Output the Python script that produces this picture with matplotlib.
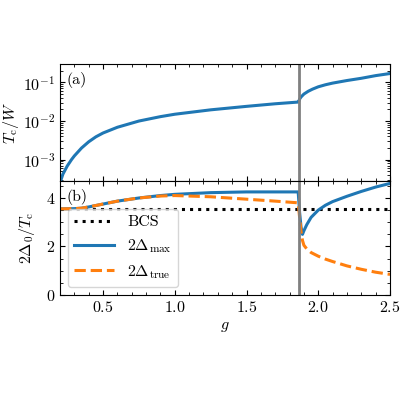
import numpy as np
import matplotlib.pyplot as plt

plt.rcParams['font.family'] = 'serif'
plt.rcParams['font.serif'] = ['cmr10', 'DejaVu Serif']
plt.rcParams['mathtext.fontset'] = 'cm'
plt.rcParams['axes.formatter.use_mathtext'] = True
plt.rcParams['font.size'] = 11.5

g_c = 1.865
g_tc = [0.2, 0.22, 0.25, 0.28, 0.3, 0.35, 0.4, 0.45, 0.5, 0.6, 0.75, 0.9, 1.0, 1.25, 1.5, 1.7, 1.86, 1.865, 1.87, 1.88, 1.9, 1.93, 1.96, 2.0, 2.05, 2.1, 2.2, 2.3, 2.4, 2.5]
tc = [2.5e-4, 4.2e-4, 6.8e-4, 1.0e-3, 1.25e-3, 2.0e-3, 2.9e-3, 3.9e-3, 4.9e-3, 6.9e-3, 1.0e-2, 1.3e-2, 1.5e-2, 1.95e-2, 2.4e-2, 2.8e-2, 3.1e-2, 3.3e-2, 3.7e-2, 4.2e-2, 5e-2, 5.9e-2, 6.7e-2, 7.7e-2, 8.7e-2, 9.6e-2, 1.12e-1, 1.28e-1, 1.5e-1, 1.7e-1]

g_d = [0.2, 0.3, 0.35, 0.4, 0.5, 0.6, 0.75, 0.9, 1.0, 1.25, 1.5, 1.7, 1.86, 1.87, 1.88, 1.89, 1.9, 1.92, 1.95, 2.0, 2.05, 2.1, 2.2, 2.3, 2.4, 2.5]
d_max = [3.55, 3.56, 3.58, 3.63, 3.75, 3.87, 4.0, 4.1, 4.15, 4.22, 4.25, 4.25, 4.25, 3.4, 2.8, 2.5, 2.65, 2.9, 3.2, 3.5, 3.7, 3.85, 4.07, 4.27, 4.45, 4.6]
d_true = [3.55, 3.56, 3.58, 3.63, 3.75, 3.87, 4.0, 4.08, 4.1, 4.05, 3.95, 3.87, 3.8, 3.2, 2.6, 2.25, 2.05, 1.9, 1.75, 1.6, 1.48, 1.38, 1.2, 1.06, 0.94, 0.85]
bcs = 3.53

fig = plt.figure(figsize=(4, 4), dpi=100)
ax1 = fig.add_axes([0.15, 0.5475, 0.825, 0.2925])
ax2 = fig.add_axes([0.15, 0.2625, 0.825, 0.285], sharex=ax1)

ax1.semilogy(g_tc, tc, color='#1f77b4', lw=2.2)
ax1.axvline(g_c, color='gray', lw=2)
ax1.set_ylim(2.8e-4, 0.3)
ax1.set_ylabel(r'$T_\mathrm{c}/W$', labelpad=1)
ax1.text(0.02, 0.93, '(a)', transform=ax1.transAxes, va='top')
ax1.tick_params(labelbottom=False)

ax2.axhline(bcs, color='black', ls=':', lw=2.2, label='BCS')
ax2.plot(g_d, d_max, color='#1f77b4', lw=2.2, label=r'$2\Delta_\mathrm{max}$')
ax2.plot(g_d, d_true, color='#ff7f0e', lw=2.2, ls='--', label=r'$2\Delta_\mathrm{true}$')
ax2.axvline(g_c, color='gray', lw=2)
ax2.set_ylim(0, 4.7)
ax2.set_xlim(0.2, 2.5)
ax2.set_xlabel(r'$g$')
ax2.set_ylabel(r'$2\Delta_0/T_\mathrm{c}$', labelpad=6)
ax2.text(0.02, 0.93, '(b)', transform=ax2.transAxes, va='top')
ax2.legend(loc='lower left', fontsize=11.5, handlelength=2.5)

for ax in (ax1, ax2):
    ax.minorticks_on()
    ax.tick_params(which='both', direction='in', top=True, right=True)

fig.savefig('out.png', dpi=100)
